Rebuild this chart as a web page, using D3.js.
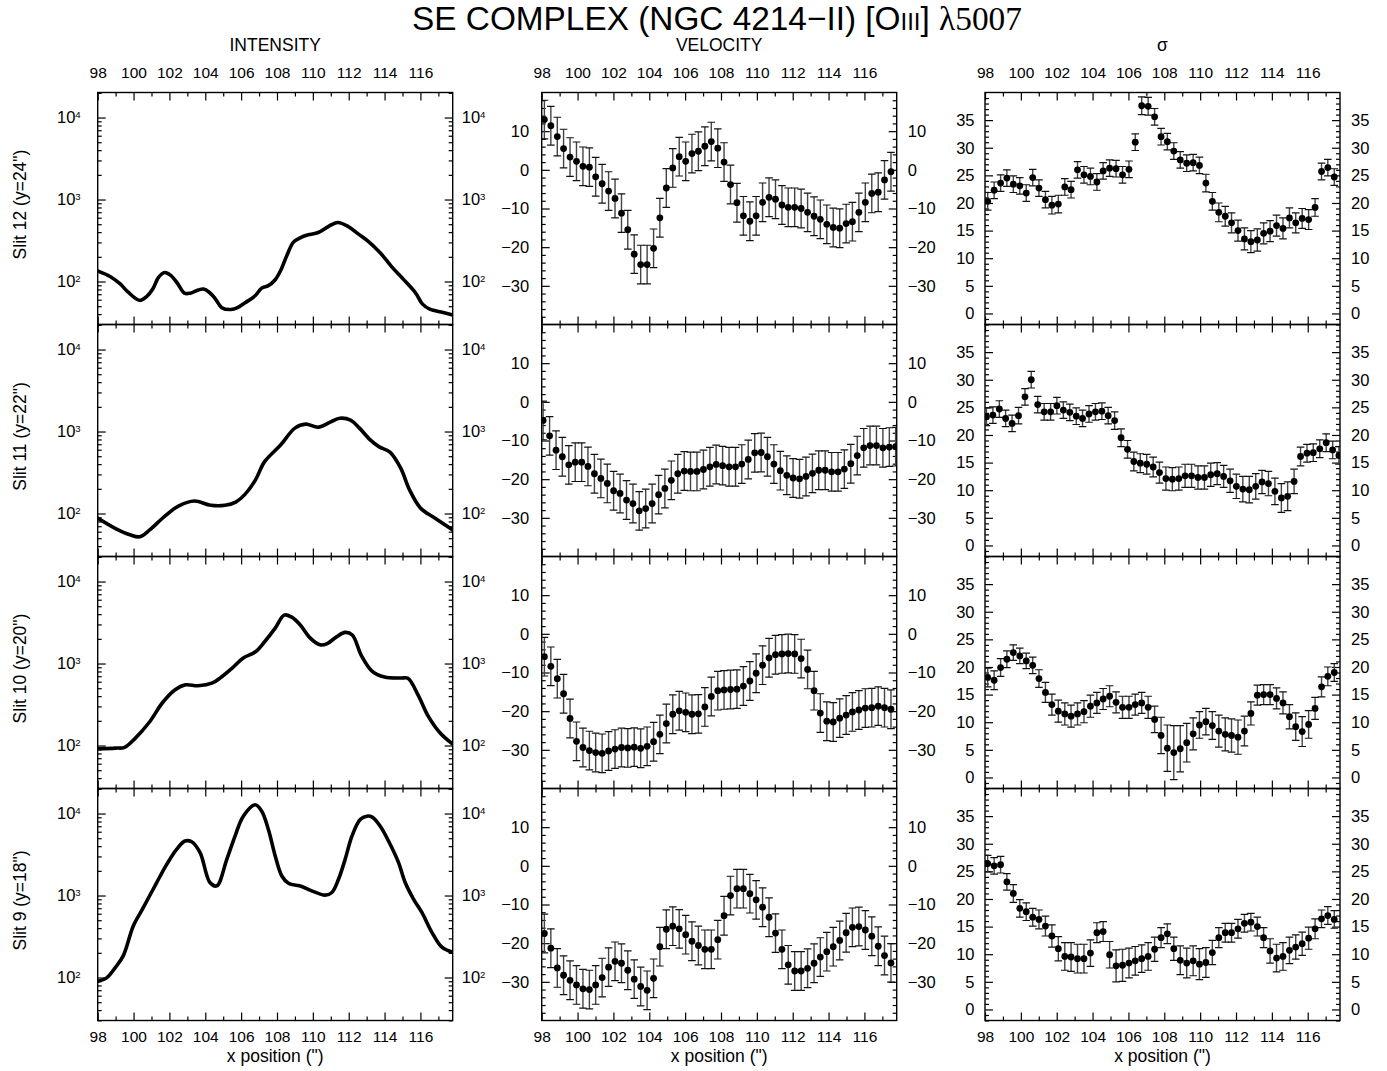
<!DOCTYPE html>
<html><head><meta charset="utf-8">
<script src="https://cdn.jsdelivr.net/npm/d3@7"></script>
<style>
body{margin:0;background:#fff}
text{font-family:"Liberation Sans",Arial,Helvetica,sans-serif;fill:#000}
</style>
</head><body>
<svg id="c" width="1387" height="1071"></svg>
<script>
// ---------- DATA ----------
const slitLabels = ["Slit 12 (y=24\")","Slit 11 (y=22\")","Slit 10 (y=20\")","Slit 9 (y=18\")"];
const columnTitles = ["INTENSITY","VELOCITY","\u03c3"];
const xTicks = [98,100,102,104,106,108,110,112,114,116];
const intTicks = [100,1000,10000];
const velTicks = [-30,-20,-10,0,10];
const sigTicks = [0,5,10,15,20,25,30,35];
const xDomain = [98,117.8];
const intDomain = [29.9,20200];
const velDomain = [-40,20];
const sigDomain = [-2,40];

// spatial positions of the fitted spectra
const xPosA = [98.15,98.51,98.87,99.22,99.58,99.94,100.30,100.66,101.01,101.37,101.73,102.09,102.45,102.80,103.16,103.52,103.88,104.24,104.59,104.95,105.31,105.67,106.03,106.38,106.74,107.10,107.46,107.82,108.17,108.53,108.89,109.25,109.61,109.96,110.32,110.68,111.04,111.40,111.75,112.11,112.47,112.83,113.19,113.54,113.90,114.26,114.62,114.98,115.33,115.69,116.05,116.41,116.77,117.12,117.48];
const xPosB = [98.08,98.44,98.80,99.15,99.51,99.87,100.23,100.58,100.94,101.30,101.66,102.01,102.37,102.73,103.09,103.44,103.80,104.16,104.52,104.87,105.23,105.59,105.95,106.30,106.66,107.02,107.38,107.73,108.09,108.45,108.81,109.16,109.52,109.88,110.24,110.59,110.95,111.31,111.67,112.02,112.38,112.74,113.10,113.45,113.81,114.17,114.53,114.88,115.24,115.60,115.96,116.31,116.67,117.03,117.39,117.74];

// intensity profiles
const intX12 = [98.0,98.69,99.24,99.7,100.33,100.74,101.07,101.4,101.74,102.07,102.45,102.84,103.16,103.62,103.9,104.22,104.55,104.92,105.43,105.8,106.22,106.78,107.15,107.52,107.9,108.21,108.55,108.92,109.29,109.74,110.3,110.86,111.38,111.98,112.53,113.09,113.74,114.39,115.04,115.74,116.12,116.52,117.26,117.8];
const int12 = [135,115,94,74,59,66,81,113,129,119,95,72,72,79,81,74,62,48,45.5,48,55,67,83,89,105,137,208,302,341,371,396,468,525,468,381,309,226,152,107,72,53,46,42,39];
const intX11 = [98.0,98.97,99.8,100.35,100.9,101.7,102.5,103.4,104.3,105.1,105.7,106.2,106.8,107.3,108.2,109.0,109.6,110.3,111.0,111.5,112.1,112.6,113.2,113.7,114.3,114.9,115.4,116.0,116.8,117.8];
const int11 = [88,66,55,52,63,91,123,142,126,126,138,170,257,426,685,1100,1230,1130,1310,1450,1380,1100,790,650,560,357,193,117,88,63];
const intX10 = [98.0,99.0,99.5,100.1,100.9,101.6,102.3,102.9,103.6,104.4,104.9,105.5,106.1,106.8,107.3,107.9,108.4,108.8,109.3,109.8,110.4,110.8,111.3,111.8,112.2,112.7,113.3,114.0,114.9,115.3,115.9,116.4,117.1,117.8];
const int10 = [91,93,95,123,195,330,476,550,535,580,685,880,1160,1390,1830,2700,3900,3700,2950,2100,1690,1750,2100,2400,2230,1260,810,685,665,660,400,235,142,104];
const intX9 = [98.0,98.5,98.97,99.43,99.99,100.55,101.29,101.85,102.4,102.87,103.24,103.71,104.26,104.64,105.2,105.66,106.12,106.78,107.15,107.52,107.9,108.27,108.64,109.38,109.94,110.68,111.06,111.43,111.8,112.18,112.64,113.01,113.29,113.76,114.22,114.78,115.15,115.62,116.08,116.64,117.2,117.8];
const int9 = [90,99,131,185,428,715,1440,2400,3660,4620,4530,3330,1440,1310,2760,5310,9290,12800,10670,6390,3040,1730,1410,1290,1140,1010,1090,1580,2760,5310,8460,9290,9100,7010,4620,2520,1440,900,622,356,234,203];

// velocities (km/s) and their errors
const vel12 = [13.0,11.4,8.6,5.5,3.3,2.2,0.9,0.7,-1.8,-3.6,-5.5,-7.4,-11.2,-15.5,-21.8,-24.5,-24.5,-20.3,-12.4,-4.7,0.5,3.4,2.2,4.2,4.8,6.1,7.3,5.6,2.0,-3.8,-8.5,-11.9,-13.3,-11.9,-8.4,-7.1,-7.6,-9.1,-9.7,-9.7,-10.0,-11.0,-12.0,-12.8,-14.1,-14.9,-15.1,-13.9,-13.4,-11.0,-8.4,-6.1,-5.8,-2.6,-0.5];
const vel11 = [-4.8,-8.8,-12.5,-14.2,-16.3,-15.6,-15.6,-16.7,-18.6,-19.8,-21.1,-23.0,-23.7,-25.4,-26.3,-28.2,-27.6,-26.3,-24.0,-22.4,-20.3,-18.6,-17.9,-18.0,-18.0,-17.5,-16.8,-16.2,-16.5,-16.8,-16.8,-16.1,-14.9,-13.2,-13.1,-14.2,-16.1,-17.8,-19.0,-19.7,-19.9,-19.3,-18.5,-17.7,-17.7,-18.1,-18.1,-17.4,-16.0,-13.9,-11.9,-11.3,-11.3,-11.9,-11.7,-11.6];
const vel10 = [-5.9,-8.4,-11.6,-15.5,-21.9,-27.8,-29.4,-30.2,-30.7,-30.9,-30.3,-29.8,-29.4,-29.5,-29.3,-29.6,-29.1,-27.9,-26.0,-23.2,-20.8,-19.9,-20.3,-20.8,-20.7,-18.9,-16.2,-14.7,-14.5,-14.4,-14.3,-13.5,-12.2,-10.2,-8.1,-6.2,-5.4,-5.2,-5.1,-5.2,-6.4,-9.2,-14.7,-20.5,-22.6,-22.8,-21.8,-21.0,-20.2,-19.7,-19.2,-19.1,-18.7,-19.1,-19.5];
const vel9 = [-17.5,-21.3,-26.4,-28.3,-29.6,-30.8,-31.8,-32.0,-30.8,-28.9,-26.2,-24.7,-25.2,-27.0,-29.3,-31.2,-32.2,-29.1,-20.9,-16.4,-15.6,-16.3,-17.8,-19.5,-20.6,-21.6,-21.6,-19.1,-12.9,-7.7,-5.9,-5.9,-7.2,-8.8,-10.7,-13.3,-17.4,-21.6,-25.6,-27.2,-27.2,-26.5,-25.2,-23.6,-22.2,-20.9,-19.3,-17.3,-15.9,-15.7,-16.6,-18.2,-20.8,-23.2,-25.1];
const velErr = [5.0,5.0,5.0,5.0];

// velocity dispersion sigma (km/s) and errors
const sig12 = [20.3,22.3,23.6,24.5,23.4,23.1,21.8,24.6,22.7,20.6,19.6,19.8,22.9,22.4,26.0,25.1,24.8,23.8,25.8,26.3,26.2,25.1,26.1,31.0,37.6,37.5,35.6,32.0,31.1,29.4,27.8,27.2,27.3,26.8,23.6,20.3,18.3,17.6,16.4,15.0,13.5,13.0,13.3,14.5,14.9,15.9,15.4,17.3,16.4,17.2,17.0,19.2,25.7,26.4,24.7];
const sigErr12 = [1.6,1.5,1.5,1.5,1.5,1.5,1.5,1.5,1.5,1.5,1.6,1.6,1.5,1.5,1.5,1.5,1.5,1.5,1.5,1.5,1.5,1.5,1.5,1.5,1.6,1.6,1.5,1.5,1.5,1.5,1.5,1.5,1.5,1.5,1.6,1.6,1.7,1.8,1.8,1.9,2.0,2.0,2.0,1.9,1.9,1.9,1.9,1.8,1.8,1.8,1.8,1.6,1.5,1.5,1.5];
const sig11 = [23.3,23.6,24.7,23.0,22.1,23.5,26.9,30.0,25.5,24.2,24.2,25.3,24.5,24.1,23.4,23.0,23.8,24.2,24.3,23.5,22.6,19.5,17.4,15.2,14.9,14.7,14.2,13.2,12.1,12.0,12.1,12.6,12.6,12.3,12.3,12.8,13.0,12.5,11.7,10.7,10.2,10.1,10.7,11.5,11.2,9.8,8.6,8.9,11.6,16.1,16.7,16.8,17.5,18.6,17.3,16.3];
const sigErr11 = [1.6,1.5,1.5,1.5,1.5,1.5,1.5,1.5,1.5,1.5,1.5,1.5,1.5,1.5,1.5,1.5,1.5,1.5,1.5,1.5,1.6,1.6,1.6,1.7,1.7,1.8,1.8,1.9,2.1,2.1,2.1,2.1,2.1,2.1,2.1,2.1,2.0,2.0,2.1,2.2,2.3,2.4,2.3,2.1,2.2,2.4,2.6,2.6,2.2,1.7,1.6,1.6,1.6,1.6,1.6,1.6];
const sig10 = [18.1,17.6,19.9,21.4,22.6,22.0,21.1,20.3,17.9,15.4,13.2,12.0,11.5,11.1,11.5,11.9,12.9,13.5,14.2,14.7,13.6,12.7,12.7,13.2,13.5,12.7,10.5,7.6,5.3,4.5,5.2,6.3,7.9,9.5,10.1,9.4,8.4,7.8,7.6,7.3,8.4,11.6,14.9,15.0,15.0,14.3,13.5,11.0,9.2,8.3,9.6,12.5,16.4,18.3,19.0];
const sigErr10 = [1.7,1.7,1.6,1.5,1.4,1.4,1.4,1.5,1.6,1.8,1.9,2.0,2.0,2.0,2.0,2.0,2.0,1.9,1.9,1.9,1.9,2.0,2.0,1.9,1.9,2.0,2.4,3.3,4.2,4.9,4.2,3.5,2.9,2.4,2.4,2.5,2.9,3.0,3.0,3.1,2.7,2.1,1.8,1.8,1.8,1.9,2.0,2.2,2.5,2.7,2.5,2.0,1.8,1.7,1.6];
const sig9 = [26.4,26.0,26.2,23.1,21.0,18.3,17.7,16.7,16.3,15.1,13.3,11.0,9.6,9.5,9.2,9.2,10.2,13.9,14.1,9.9,7.9,8.0,8.4,8.8,9.2,9.6,10.9,13.0,13.7,11.0,8.9,8.4,8.8,8.2,8.5,10.3,13.0,13.9,13.9,14.6,15.6,15.8,15.0,13.0,10.6,9.3,9.6,10.7,11.3,11.9,12.9,14.6,16.4,17.0,16.3];
const sigErr9 = [1.5,1.5,1.5,1.5,1.6,1.6,1.6,1.6,1.7,1.8,2.0,2.2,2.5,2.6,2.6,2.6,2.4,1.8,1.8,2.4,2.9,2.9,2.7,2.6,2.5,2.5,2.2,1.8,1.8,2.1,2.6,2.7,2.7,2.8,2.7,2.2,1.8,1.7,1.7,1.7,1.6,1.6,1.7,1.8,2.2,2.5,2.5,2.4,2.2,2.1,2.0,1.8,1.6,1.6,1.6];

// ---------- LAYOUT ----------
const svg = d3.select("#c");
const colX = [97.7, 541.7, 985];
const rowY = [92.5, 324.5, 556.5, 788.5];
const PW = 355, PH = 232;

const rows = [
  {label: slitLabels[0], ix: intX12, iv: int12, xp: xPosA, v: vel12, ve: velErr[0], s: sig12, se: sigErr12},
  {label: slitLabels[1], ix: intX11, iv: int11, xp: xPosB, v: vel11, ve: velErr[1], s: sig11, se: sigErr11},
  {label: slitLabels[2], ix: intX10, iv: int10, xp: xPosA, v: vel10, ve: velErr[2], s: sig10, se: sigErr10},
  {label: slitLabels[3], ix: intX9,  iv: int9,  xp: xPosA, v: vel9,  ve: velErr[3], s: sig9,  se: sigErr9}
];

const x = d3.scaleLinear().domain(xDomain).range([0, PW]);
const yI = d3.scaleLog().domain(intDomain).range([PH, 0]);
const yV = d3.scaleLinear().domain(velDomain).range([PH, 0]);
const yS = d3.scaleLinear().domain(sigDomain).range([PH, 0]);

const xMinor = d3.range(99, 118, 2);
const velMinor = d3.range(-40, 21, 2).filter(d => d % 10 !== 0);
const sigMinor = d3.range(-2, 41, 1).filter(d => d % 5 !== 0);
const intMinor = [];
[10,100,1000,10000].forEach(p => { for (let k = 2; k <= 9; k++) { const v = k*p; if (v >= intDomain[0] && v <= intDomain[1]) intMinor.push(v); } });

const XFS = 15.5, YFS = 16.5;

function styleAxis(sel) {
  sel.select(".domain").remove();
  sel.selectAll(".tick line").attr("stroke", "#000").attr("stroke-width", 1.2);
  sel.selectAll(".tick text").attr("font-family", "Liberation Sans, Arial, sans-serif").attr("fill", "#000");
}

function logLabels(sel) {
  sel.selectAll(".tick text").each(function(d) {
    const t = d3.select(this);
    t.text("10");
    t.append("tspan").attr("dy", "-0.6em").attr("font-size", "0.58em").text(Math.round(Math.log10(d)));
  });
}

function panel(r, c) {
  const row = rows[r];
  const g = svg.append("g").attr("transform", `translate(${colX[c]},${rowY[r]})`);

  // x axes (ticks inward)
  const bMin = g.append("g").attr("transform", `translate(0,${PH})`)
    .call(d3.axisBottom(x).tickValues(xMinor).tickSize(-4).tickFormat(""));
  styleAxis(bMin);
  const bMaj = g.append("g").attr("transform", `translate(0,${PH})`)
    .call(d3.axisBottom(x).tickValues(xTicks).tickSize(-8).tickPadding(10)
      .tickFormat(r === 3 ? d3.format("d") : ""));
  styleAxis(bMaj);
  bMaj.attr("font-size", XFS);
  const tMin = g.append("g").call(d3.axisTop(x).tickValues(xMinor).tickSize(-4).tickFormat(""));
  styleAxis(tMin);
  const tMaj = g.append("g").call(d3.axisTop(x).tickValues(xTicks).tickSize(-8).tickPadding(14.5)
      .tickFormat(r === 0 ? d3.format("d") : ""));
  styleAxis(tMaj);
  tMaj.attr("font-size", XFS);

  // y axes
  let y, majors, minors, padL, padR;
  if (c === 0) { y = yI; majors = intTicks; minors = intMinor; padL = 17; padR = 9; }
  else if (c === 1) { y = yV; majors = velTicks; minors = velMinor; padL = 12.5; padR = 11; }
  else { y = yS; majors = sigTicks; minors = sigMinor; padL = 10.5; padR = 11; }

  const lMin = g.append("g").call(d3.axisLeft(y).tickValues(minors).tickSize(-4).tickFormat(""));
  styleAxis(lMin);
  const lMaj = g.append("g").call(d3.axisLeft(y).tickValues(majors).tickSize(-8).tickPadding(padL).tickFormat(d3.format("d")));
  styleAxis(lMaj); lMaj.attr("font-size", YFS);
  const rMin = g.append("g").attr("transform", `translate(${PW},0)`).call(d3.axisRight(y).tickValues(minors).tickSize(-4).tickFormat(""));
  styleAxis(rMin);
  const rMaj = g.append("g").attr("transform", `translate(${PW},0)`).call(d3.axisRight(y).tickValues(majors).tickSize(-8).tickPadding(padR).tickFormat(d3.format("d")));
  styleAxis(rMaj); rMaj.attr("font-size", YFS);
  if (c === 0) { logLabels(lMaj); logLabels(rMaj); }

  // frame
  g.append("rect").attr("width", PW).attr("height", PH).attr("fill", "none").attr("stroke", "#000").attr("stroke-width", 1.4);

  // data
  const clipId = `clip${r}${c}`;
  g.append("clipPath").attr("id", clipId).append("rect").attr("width", PW).attr("height", PH);
  const dg = g.append("g").attr("clip-path", `url(#${clipId})`);

  if (c === 0) {
    const pts = row.ix.map((xx, i) => [xx, row.iv[i]]);
    const line = d3.line().x(d => x(d[0])).y(d => yI(d[1])).curve(d3.curveCatmullRom.alpha(0.5));
    dg.append("path").attr("d", line(pts)).attr("fill", "none").attr("stroke", "#000")
      .attr("stroke-width", 3.6).attr("stroke-linejoin", "round").attr("stroke-linecap", "round");
  } else {
    const vals = c === 1 ? row.v : row.s;
    const errs = c === 1 ? row.v.map(() => row.ve) : row.se;
    const ys = c === 1 ? yV : yS;
    const pts = vals.map((v, i) => ({x: row.xp[i], v: v, e: errs[i]}));
    const eb = dg.selectAll("g.eb").data(pts).join("g").attr("class", "eb");
    eb.append("line").attr("x1", d => x(d.x)).attr("x2", d => x(d.x))
      .attr("y1", d => ys(d.v - d.e)).attr("y2", d => ys(d.v + d.e))
      .attr("stroke", "#444").attr("stroke-width", 1.4);
    [1, -1].forEach(sgn => {
      eb.append("line").attr("x1", d => x(d.x) - 3.8).attr("x2", d => x(d.x) + 3.8)
        .attr("y1", d => ys(d.v + sgn * d.e)).attr("y2", d => ys(d.v + sgn * d.e))
        .attr("stroke", "#111").attr("stroke-width", 1.2);
    });
    dg.selectAll("circle.pt").data(pts).join("circle").attr("class", "pt")
      .attr("cx", d => x(d.x)).attr("cy", d => ys(d.v)).attr("r", 3.4).attr("fill", "#000");
  }
}

for (let r = 0; r < 4; r++) for (let c = 0; c < 3; c++) panel(r, c);

// row labels
rows.forEach((row, r) => {
  svg.append("text").attr("transform", `translate(25.5,${rowY[r] + PH/2 - 4}) rotate(-90)`)
    .attr("text-anchor", "middle").attr("font-size", 17.5).text(row.label);
});

// column titles
columnTitles.forEach((t, c) => {
  svg.append("text").attr("x", colX[c] + PW/2).attr("y", 51).attr("text-anchor", "middle")
    .attr("font-size", 17.5).text(t);
  svg.append("text").attr("x", colX[c] + PW/2).attr("y", 1062).attr("text-anchor", "middle")
    .attr("font-size", 17.5).text("x position (\")");
});

// title
const title = svg.append("text").attr("x", 717).attr("y", 30).attr("text-anchor", "middle").attr("font-size", 31);
title.append("tspan").text("SE COMPLEX (NGC 4214\u2212II) [O");
title.append("tspan").attr("font-size", "0.72em").text("III");
title.append("tspan").text("] ");
title.append("tspan").attr("font-family", "Liberation Serif, Times New Roman, serif").text("\u03bb5007");
const tl = title.node().getComputedTextLength();
title.attr("font-size", 31 * 610 / tl);
</script>
</body></html>
